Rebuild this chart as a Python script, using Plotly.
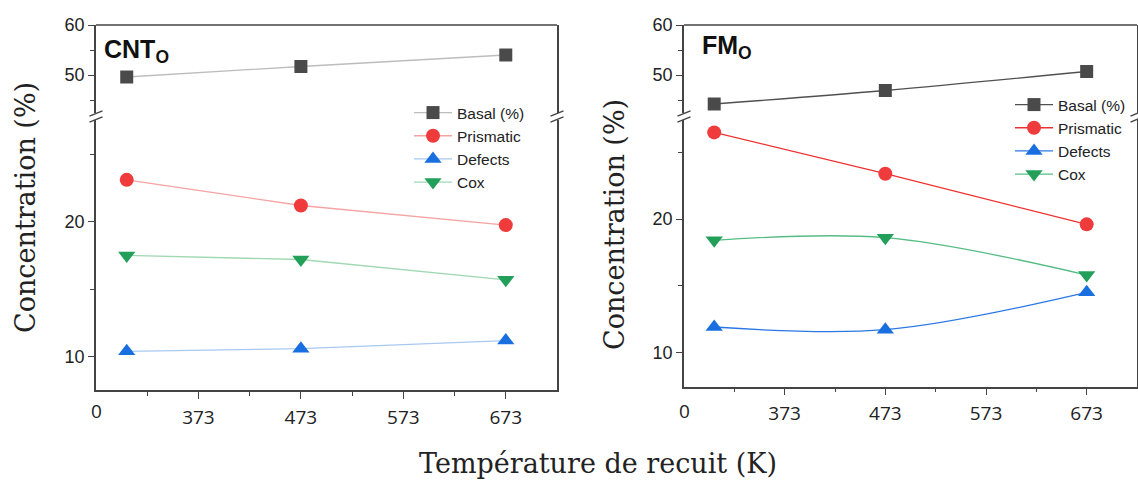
import plotly.graph_objects as go

W, H = 1138, 482

# ---------------- data ----------------
temps = [303, 473, 673]
series = ["Basal (%)", "Prismatic", "Defects", "Cox"]

cnt_basal = [49.6, 51.7, 54.0]
cnt_prismatic = [23.1, 21.2, 19.75]
cnt_defects = [10.4, 10.6, 11.2]
cnt_cox = [17.5, 17.2, 15.7]

fm_basal = [44.2, 46.9, 50.7]
fm_prismatic = [26.5, 23.4, 19.6]
fm_defects = [11.9, 11.7, 14.5]
fm_cox = [18.4, 18.6, 15.8]

x_tickvals = [373, 473, 573, 673]
x_ticktext = ["373", "473", "573", "673"]
x_origin_label = "0"

# ---------------- styles ----------------
marker_colors = ["#4a4a4a", "#ef3b3b", "#1a6fe0", "#22a05a"]
symbols = ["square", "circle", "triangle-up", "triangle-down"]
left_line_colors = ["#bdbdbd", "#f5a3a3", "#a9c9f2", "#9fd8b2"]
right_line_colors = ["#505050", "#ee3030", "#2a78e4", "#55bd84"]
marker_sizes = [13, 14, 15, 15]

AX = "#444444"
TICKFONT = dict(family="Arial, Liberation Sans", size=18, color="#222222")
XTICKFONT = dict(family="Open Sans", size=19, color="#222222")


def py(p):
    return 1 - p / H


def px(p):
    return p / W


fig = go.Figure()

panels = [
    dict(data=[cnt_basal, cnt_prismatic, cnt_defects, cnt_cox], xa="x", yb="y", yt="y2",
         lines=left_line_colors, shape="linear", legend="legend"),
    dict(data=[fm_basal, fm_prismatic, fm_defects, fm_cox], xa="x2", yb="y3", yt="y4",
         lines=right_line_colors, shape="spline", legend="legend2"),
]

for pnl in panels:
    for i, name in enumerate(series):
        fig.add_trace(go.Scatter(
            x=temps, y=pnl["data"][i], name=name, mode="lines+markers",
            xaxis=pnl["xa"], yaxis=(pnl["yt"] if i == 0 else pnl["yb"]),
            line=dict(color=pnl["lines"][i], width=1.3, shape=pnl["shape"], smoothing=1.0),
            marker=dict(symbol=symbols[i], color=marker_colors[i], size=marker_sizes[i],
                        line=dict(width=0)),
            legend=pnl["legend"], showlegend=True,
        ))

common_x = dict(range=[273, 723], tickvals=x_tickvals, ticktext=x_ticktext,
                ticks="outside", ticklen=7, tickwidth=1.3, tickcolor=AX, automargin=False,
                showline=True, linecolor=AX, linewidth=1.5, showgrid=False, zeroline=False,
                tickfont=XTICKFONT, ticklabelstandoff=2,
                minor=dict(tickvals=[323, 423, 523, 623], ticks="outside", ticklen=4,
                           tickcolor=AX, tickwidth=1.2))

def yax(domain, rng, tv, mv, anchor):
    return dict(domain=domain, range=rng, tickvals=tv, ticks="outside", ticklen=6,
                tickwidth=1.3, tickcolor=AX, showline=True, mirror=True, linecolor=AX,
                linewidth=1.5, showgrid=False, zeroline=False, tickfont=TICKFONT,
                anchor=anchor, automargin=False,
                minor=dict(tickvals=mv, ticks="outside", ticklen=4, tickcolor=AX, tickwidth=1.2))

LEGFONT = dict(family="Arial, Liberation Sans", size=15.5, color="#222222")
fig.update_layout(
    width=W, height=H, margin=dict(l=0, r=0, t=0, b=0, autoexpand=False),
    paper_bgcolor="white", plot_bgcolor="white",
    xaxis=dict(domain=[px(96), px(557)], anchor="y", **common_x),
    xaxis2=dict(domain=[px(684), px(1137)], anchor="y3", **common_x),
    yaxis=yax([py(390), py(120)], [7.54, 27.53], [10, 20], [15, 25], "x"),
    yaxis2=yax([py(113), py(25)], [42.4, 60], [50, 60], [45, 55], "x"),
    yaxis3=yax([py(386.7), py(120)], [7.42, 27.43], [10, 20], [15, 25], "x2"),
    yaxis4=yax([py(113), py(25)], [42.4, 60], [50, 60], [45, 55], "x2"),
    legend=dict(x=px(409), y=py(96), xanchor="left", yanchor="top", bgcolor="rgba(0,0,0,0)",
                font=LEGFONT, itemwidth=38, traceorder="normal", tracegroupgap=0),
    legend2=dict(x=px(1010), y=py(88), xanchor="left", yanchor="top", bgcolor="rgba(0,0,0,0)",
                 font=LEGFONT, itemwidth=38, traceorder="normal", tracegroupgap=0),
    showlegend=True,
)

shapes = []
# top frame lines
for xa, yt in [("x", "y2"), ("x2", "y4")]:
    shapes.append(dict(type="line", xref=f"{xa} domain", yref=f"{yt} domain",
                       x0=0, x1=1, y0=1, y1=1, line=dict(color=AX, width=1.5)))
# break marks
for xc in [96, 557, 684, 1137]:
    for yc in [113.5, 119.5]:
        shapes.append(dict(type="line", xref="paper", yref="paper",
                           x0=px(xc - 6.5), x1=px(xc + 6.5), y0=py(yc + 2.6), y1=py(yc - 2.6),
                           line=dict(color=AX, width=1.4)))
fig.update_layout(shapes=shapes)

ann = []
SERIF = "DejaVu Serif"
ann.append(dict(text="Concentration (%)", x=px(25), y=py(208), xref="paper", yref="paper",
                xanchor="center", yanchor="middle",
                textangle=-90, showarrow=False, font=dict(family=SERIF, size=27, color="#222222")))
ann.append(dict(text="Concentration (%)", x=px(614), y=py(225), xref="paper", yref="paper",
                xanchor="center", yanchor="middle",
                textangle=-90, showarrow=False, font=dict(family=SERIF, size=27, color="#222222")))
ann.append(dict(text="Température de recuit (K)", x=px(598), y=py(463), xref="paper", yref="paper",
                xanchor="center", yanchor="middle",
                showarrow=False, font=dict(family=SERIF, size=27, color="#222222")))
ann.append(dict(text="<b>CNT<sub>O</sub></b>", x=px(102), y=py(51), xref="paper", yref="paper",
                xanchor="left", yanchor="middle", showarrow=False,
                font=dict(family="Arial, Liberation Sans", size=25, color="#111111")))
ann.append(dict(text="<b>FM<sub>O</sub></b>", x=px(700), y=py(47), xref="paper", yref="paper",
                xanchor="left", yanchor="middle", showarrow=False,
                font=dict(family="Arial, Liberation Sans", size=25, color="#111111")))
for xc in [96, 684]:
    ann.append(dict(text=x_origin_label, x=px(xc), y=py(411), xref="paper", yref="paper",
                    showarrow=False, xanchor="center", yanchor="middle", font=XTICKFONT))
fig.update_layout(annotations=ann)

fig.write_html("out.html", config={"displayModeBar": False},
               post_script="document.body.style.margin='0';")
